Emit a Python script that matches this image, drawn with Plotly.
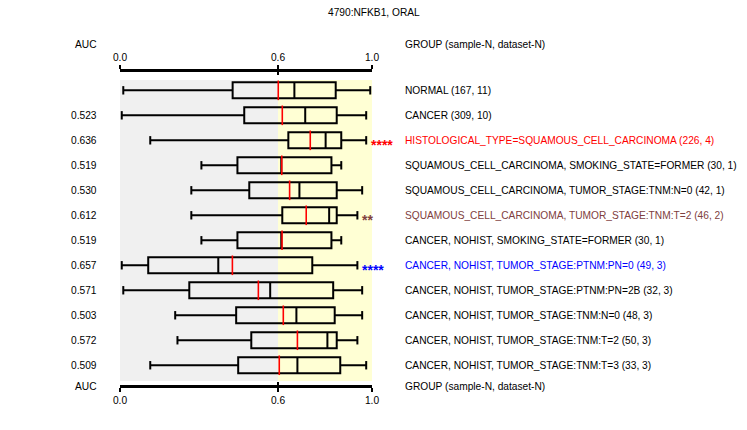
import plotly.graph_objects as go

# ---------------- data ----------------
GROUPS = [
    "NORMAL (167, 11)",
    "CANCER (309, 10)",
    "HISTOLOGICAL_TYPE=SQUAMOUS_CELL_CARCINOMA (226, 4)",
    "SQUAMOUS_CELL_CARCINOMA, SMOKING_STATE=FORMER (30, 1)",
    "SQUAMOUS_CELL_CARCINOMA, TUMOR_STAGE:TNM:N=0 (42, 1)",
    "SQUAMOUS_CELL_CARCINOMA, TUMOR_STAGE:TNM:T=2 (46, 2)",
    "CANCER, NOHIST, SMOKING_STATE=FORMER (30, 1)",
    "CANCER, NOHIST, TUMOR_STAGE:PTNM:PN=0 (49, 3)",
    "CANCER, NOHIST, TUMOR_STAGE:PTNM:PN=2B (32, 3)",
    "CANCER, NOHIST, TUMOR_STAGE:TNM:N=0 (48, 3)",
    "CANCER, NOHIST, TUMOR_STAGE:TNM:T=2 (50, 3)",
    "CANCER, NOHIST, TUMOR_STAGE:TNM:T=3 (33, 3)",
]
AUC = ["", "0.523", "0.636", "0.519", "0.530", "0.612", "0.519",
       "0.657", "0.571", "0.503", "0.572", "0.509"]
LOWER = [0.013, 0.007, 0.120, 0.323, 0.283, 0.283, 0.323, 0.007, 0.013, 0.219, 0.228, 0.120]
Q1 = [0.447, 0.493, 0.668, 0.466, 0.513, 0.644, 0.466, 0.112, 0.275, 0.461, 0.521, 0.469]
MEDIAN = [0.692, 0.735, 0.816, 0.640, 0.712, 0.830, 0.640, 0.390, 0.596, 0.700, 0.823, 0.704]
MEAN = [0.628, 0.644, 0.755, 0.642, 0.673, 0.739, 0.643, 0.446, 0.549, 0.648, 0.704, 0.632]
Q3 = [0.856, 0.860, 0.878, 0.839, 0.860, 0.860, 0.839, 0.763, 0.846, 0.852, 0.860, 0.874]
UPPER = [0.993, 0.977, 0.977, 0.878, 0.961, 0.942, 0.878, 0.942, 0.961, 0.961, 0.942, 0.977]
STARS = ["", "", "****", "", "", "**", "", "****", "", "", "", ""]
LABEL_COLORS = ["black", "black", "#ff0000", "black", "black", "#804040",
                "black", "#0000ff", "black", "black", "black", "black"]
TICK_VALS = [0.0, 0.627, 1.0]
TICK_TEXT = ["0.0", "0.6", "1.0"]
THRESHOLD = 0.627
TITLE = "4790:NFKB1, ORAL"
HEADER_LEFT = "AUC"
HEADER_RIGHT = "GROUP (sample-N, dataset-N)"

FONT = "Liberation Sans"
FS = 10.2
FS_NUM = 10.2
pos = list(range(len(GROUPS)))

# page body has an 8px margin; compensate
OFF = 8
W, H = 747 - 2 * OFF, 430 - 2 * OFF
L, T = 120 - OFF, 70 - OFF
PW, PH = 252, 316
R, B = W - L - PW, H - T - PH


def px_x(px):  # page pixel -> paper x
    return (px - 120) / PW


def px_y(py):  # page pixel -> paper y
    return (386 - py) / PH


fig = go.Figure()

fig.add_trace(go.Box(
    y=pos, q1=Q1, median=MEDIAN, q3=Q3, lowerfence=LOWER, upperfence=UPPER,
    orientation="h", fillcolor="rgba(0,0,0,0)",
    line=dict(color="black", width=2), width=0.64, whiskerwidth=0,
    boxpoints=False, hoverinfo="skip", showlegend=False,
))
# whisker caps
fig.add_trace(go.Scatter(
    x=LOWER + UPPER, y=pos + pos, mode="markers",
    marker=dict(symbol="line-ns", size=6, line=dict(color="black", width=2)),
    hoverinfo="skip", showlegend=False,
))
# red (mean) lines
fig.add_trace(go.Scatter(
    x=MEAN, y=pos, mode="markers",
    marker=dict(symbol="line-ns", size=14, line=dict(color="#ff0000", width=1.6)),
    hoverinfo="skip", showlegend=False,
))

# yellow region
fig.add_shape(type="rect", xref="x", yref="y domain", x0=THRESHOLD, x1=1.0,
              y0=0, y1=1, fillcolor="#ffffd4", line=dict(width=0), layer="below")

ann = []
for i in pos:
    ann.append(dict(x=px_x(404), y=i, xref="paper", yref="y", text=GROUPS[i], showarrow=False,
                    xanchor="left", yanchor="middle", borderpad=0,
                    font=dict(family=FONT, size=FS, color=LABEL_COLORS[i])))
    if AUC[i]:
        ann.append(dict(x=px_x(97.5), y=i, xref="paper", yref="y", text=AUC[i], showarrow=False,
                        xanchor="right", yanchor="middle", borderpad=0,
                        font=dict(family=FONT, size=FS_NUM, color="black")))
    if STARS[i]:
        ann.append(dict(x=UPPER[i] + 0.014, y=i + 0.2, xref="x", yref="y",
                        text="<b>" + STARS[i] + "</b>",
                        showarrow=False, xanchor="left", yanchor="middle", borderpad=0,
                        font=dict(family=FONT, size=14, color=LABEL_COLORS[i])))
for py in (44, 386):
    ann.append(dict(x=px_x(97.5), y=px_y(py), xref="paper", yref="paper", text=HEADER_LEFT,
                    showarrow=False, xanchor="right", yanchor="middle", borderpad=0,
                    font=dict(family=FONT, size=FS_NUM, color="black")))
    ann.append(dict(x=px_x(404), y=px_y(py), xref="paper", yref="paper", text=HEADER_RIGHT,
                    showarrow=False, xanchor="left", yanchor="middle", borderpad=0,
                    font=dict(family=FONT, size=FS, color="black")))
ann.append(dict(x=px_x(373.5), y=px_y(13), xref="paper", yref="paper", text=TITLE,
                showarrow=False, xanchor="center", yanchor="middle", borderpad=0,
                font=dict(family=FONT, size=FS_NUM, color="black")))

axis_common = dict(range=[0, 1], tickvals=TICK_VALS, ticktext=TICK_TEXT, showgrid=False,
                   zeroline=False, ticklen=4, tickwidth=2, tickcolor="black",
                   tickfont=dict(family=FONT, size=FS_NUM, color="black"), fixedrange=True)

fig.update_layout(
    width=W, height=H,
    margin=dict(l=L, r=R, t=T, b=B, pad=0),
    paper_bgcolor="white", plot_bgcolor="#f0f0f0",
    xaxis=dict(**axis_common, anchor="free", position=0, side="bottom",
               showline=True, linewidth=3, linecolor="black", ticks="outside"),
    xaxis2=dict(**axis_common, overlaying="x", anchor="free", position=1, side="top",
                showline=True, linewidth=3, linecolor="black", ticks="outside"),
    xaxis3=dict(**axis_common, overlaying="x", anchor="free", position=0, side="bottom",
                showline=False, ticks="inside", showticklabels=False),
    xaxis4=dict(**axis_common, overlaying="x", anchor="free", position=1, side="top",
                showline=False, ticks="inside", showticklabels=False),
    yaxis=dict(range=[11.63, -0.413], domain=[px_y(381), px_y(80)], showgrid=False,
               zeroline=False, showticklabels=False, showline=False, fixedrange=True),
    annotations=ann,
    showlegend=False,
)
# invisible traces to activate the extra axes
for ax in ("x2", "x3", "x4"):
    fig.add_trace(go.Scatter(x=[0, 1], y=[0, 0], xaxis=ax, yaxis="y", mode="markers",
                             marker=dict(opacity=0), hoverinfo="skip", showlegend=False))

fig.write_html("out.html", config={"displayModeBar": False})
